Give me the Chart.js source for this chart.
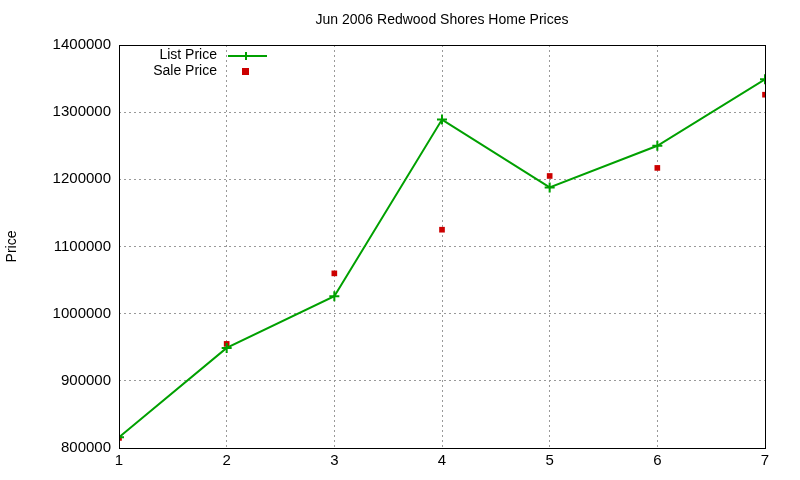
<!DOCTYPE html>
<html><head><meta charset="utf-8">
<script src="https://cdn.jsdelivr.net/npm/chart.js@4"></script>
<style>html,body{margin:0;padding:0;background:#fff}</style>
</head><body><canvas id="c" width="800" height="480"></canvas>
<script>
const categories = [1, 2, 3, 4, 5, 6, 7];
const listPrice = [816000, 949000, 1026000, 1289000, 1188000, 1250000, 1349000];
const salePrice = [815000, 955000, 1060000, 1125000, 1205000, 1217000, 1326000];
const titleText = "Jun 2006 Redwood Shores Home Prices";
const yTitle = "Price";
const seriesNames = ["List Price", "Sale Price"];
const green = "#00a000", red = "#cc0000";
const font = "Liberation Sans, Arial, sans-serif";

const deco = {
  id: 'deco',
  afterDraw(ch) {
    const c = ch.ctx, a = ch.chartArea;
    c.save();
    c.strokeStyle = '#000'; c.lineWidth = 1;
    c.strokeRect(Math.round(a.left)+0.5, Math.round(a.top)+0.5, Math.round(a.right-a.left), Math.round(a.bottom-a.top));
    c.fillStyle = '#000';
    c.font = '14px ' + font; c.textAlign = 'center'; c.textBaseline = 'middle';
    c.fillText(titleText, (a.left + a.right) / 2, 20);
    c.save(); c.translate(12, (a.top + a.bottom) / 2); c.rotate(-Math.PI / 2);
    c.fillText(yTitle, 0, 0); c.restore();
    c.textAlign = 'right';
    c.fillText(seriesNames[0], 217, 55);
    c.fillText(seriesNames[1], 217, 71);
    c.strokeStyle = green; c.lineWidth = 2;
    c.beginPath(); c.moveTo(228, 56); c.lineTo(267, 56);
    c.moveTo(246, 52); c.lineTo(246, 60); c.stroke();
    c.fillStyle = red; c.fillRect(242, 68, 7, 7);
    c.restore();
  }
};

new Chart(document.getElementById('c'), {
  type: 'line',
  data: {
    datasets: [
      { label: seriesNames[0], data: categories.map((x, i) => ({x, y: listPrice[i]})),
        borderColor: green, backgroundColor: green, borderWidth: 2, pointStyle: 'cross',
        pointRadius: 5, pointBorderWidth: 2, tension: 0 },
      { label: seriesNames[1], data: categories.map((x, i) => ({x, y: salePrice[i]})),
        showLine: false, borderColor: red, backgroundColor: red, pointStyle: 'rect',
        pointRadius: 4, pointBorderWidth: 0 }
    ]
  },
  options: {
    responsive: false, animation: false, devicePixelRatio: 1,
    layout: { padding: { left: 0, right: 35, top: 45, bottom: 0 } },
    plugins: { legend: { display: false }, tooltip: { enabled: false }, title: { display: false } },
    scales: {
      x: { type: 'linear', min: 1, max: 7,
        ticks: { stepSize: 1, color: '#000', font: { family: font, size: 15 }, padding: 4 },
        grid: { color: '#999', drawTicks: false },
        border: { display: false, dash: [2, 3] },
        afterFit(s) { s.height = 32; } },
      y: { min: 800000, max: 1400000,
        ticks: { stepSize: 100000, color: '#000', font: { family: font, size: 15 }, padding: 8,
          callback: v => String(v) },
        grid: { color: '#999', drawTicks: false },
        border: { display: false, dash: [2, 3] },
        afterFit(s) { s.width = 119; } }
    }
  },
  plugins: [deco]
});
</script>
</body></html>
